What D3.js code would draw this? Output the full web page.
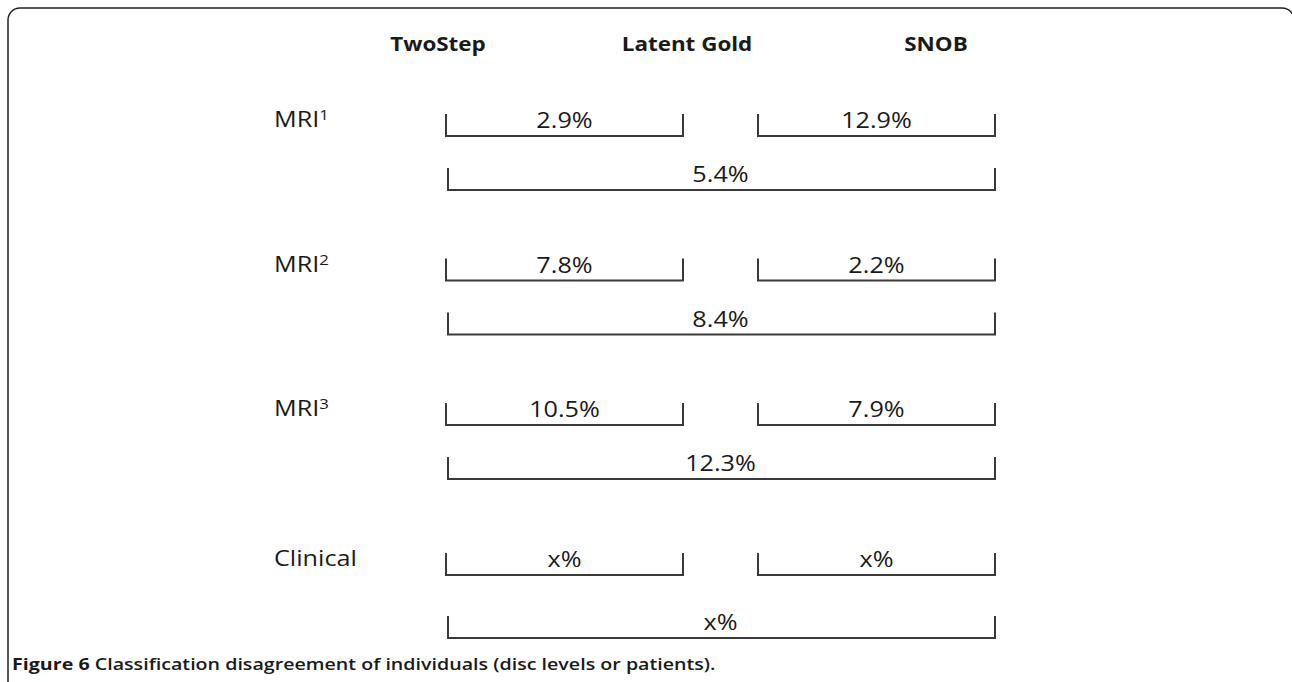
<!DOCTYPE html>
<html>
<head>
<meta charset="utf-8">
<script src="https://cdn.jsdelivr.net/npm/d3@7"></script>
<style>
html,body{margin:0;padding:0;background:#fff;}
svg{display:block;}
</style>
</head>
<body>
<svg id="chart" width="1292" height="682"></svg>
<script>
// ---- data ----
const methods = ["TwoStep", "Latent Gold", "SNOB"];
const rowNames = ["MRI", "MRI", "MRI", "Clinical"];
const rowSups = ["1", "2", "3", ""];
const twoStepVsLatent = ["2.9%", "7.8%", "10.5%", "x%"];
const latentVsSnob = ["12.9%", "2.2%", "7.9%", "x%"];
const twoStepVsSnob = ["5.4%", "8.4%", "12.3%", "x%"];
const captionBold = "Figure 6";
const captionText = " Classification disagreement of individuals (disc levels or patients).";

// ---- layout ----
const W = 1292, H = 682;
const svg = d3.select("#chart");
const ink = "#3a3a3a";
const textFont = "'Open Sans', 'Liberation Sans', sans-serif";
const SX = 1.2; // horizontal stretch of the original figure's lettering

function stretched(g, x, y, anchor, sx) {
  return g.append("text")
    .attr("transform", `translate(${x},${y}) scale(${sx},1)`)
    .attr("text-anchor", anchor);
}

// frame
const fp = d3.path();
fp.moveTo(8, H);
fp.lineTo(8, 20);
fp.arcTo(8, 8, 20, 8, 12);
fp.lineTo(1282, 8);
fp.arcTo(1294, 8, 1294, 20, 12);
svg.append("path").attr("d", fp.toString()).attr("fill", "none")
  .attr("stroke", "#222").attr("stroke-width", 1.5);

// header scale
const xHead = d3.scalePoint().domain(methods).range([438, 936]);
methods.forEach(m => {
  stretched(svg, xHead(m), 51, "middle", 1.15)
    .attr("font-family", textFont).attr("font-weight", 700)
    .attr("font-size", 19.5).attr("fill", "#1a1a1a")
    .text(m);
});

// bracket scale (method index -> x)
const xB = d3.scaleLinear().domain([0, methods.length - 1]).range([446, 995]);
const gap = 37.5;

const rows = rowNames.map((n, i) => ({
  name: n, sup: rowSups[i],
  a: twoStepVsLatent[i], b: latentVsSnob[i], c: twoStepVsSnob[i], i
}));

const yRow = d3.scaleLinear().domain([0, 2]).range([136, 425]);
const yPair = i => i < 3 ? yRow(i) : 575;
const yFull = i => yPair(i) + (i < 3 ? 54 : 63);

const tickH = 22;
function bracket(g, x0, x1, y) {
  const p = d3.path();
  p.moveTo(x0, y - tickH);
  p.lineTo(x0, y);
  p.lineTo(x1, y);
  p.lineTo(x1, y - tickH);
  g.append("path").attr("d", p.toString()).attr("fill", "none")
    .attr("stroke", ink).attr("stroke-width", 2);
}
function label(g, x, y, t) {
  stretched(g, x, y - 8, "middle", SX)
    .attr("font-family", textFont).attr("font-size", 21)
    .attr("fill", "#1a1a1a").text(t);
}

rows.forEach(r => {
  const g = svg.append("g");
  const yp = yPair(r.i), yf = yFull(r.i);
  // row label
  const t = stretched(g, 274, yp - 9, "start", SX)
    .attr("font-family", textFont).attr("font-size", 21).attr("fill", "#1a1a1a");
  t.append("tspan").text(r.name);
  if (r.sup) t.append("tspan").attr("font-size", 14).attr("dy", -7).text(r.sup);
  // pair brackets
  bracket(g, xB(0), xB(1) - gap, yp);
  label(g, (xB(0) + xB(1) - gap) / 2, yp, r.a);
  bracket(g, xB(1) + gap, xB(2), yp);
  label(g, (xB(1) + gap + xB(2)) / 2, yp, r.b);
  // full bracket
  bracket(g, xB(0) + 2, xB(2), yf);
  label(g, (xB(0) + xB(2)) / 2, yf, r.c);
});

// caption, stretched to the width it occupies in the figure
const cap = svg.append("text")
  .attr("font-family", textFont).attr("font-size", 16).attr("fill", "#1a1a1a");
cap.append("tspan").attr("font-weight", 700).text(captionBold);
cap.append("tspan").attr("font-weight", 600).text(captionText);
const cw = cap.node().getComputedTextLength();
cap.attr("transform", `translate(12,670) scale(${704 / cw},1)`);
</script>
</body>
</html>
